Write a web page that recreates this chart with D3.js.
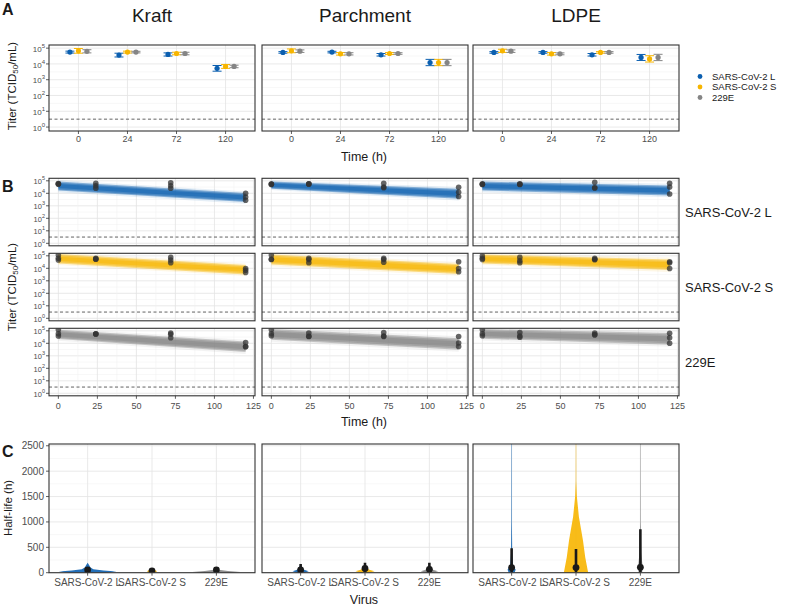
<!DOCTYPE html>
<html><head><meta charset="utf-8">
<script src="https://cdn.jsdelivr.net/npm/d3@7"></script>
<style>body{margin:0;background:#fff} text{font-family:"Liberation Sans",Arial,Helvetica,sans-serif}</style>
</head><body><svg id="c" width="789" height="606"></svg>
<script>
// ---------- data ----------
const materials = ["Kraft", "Parchment", "LDPE"];
const viruses = ["SARS-CoV-2 L", "SARS-CoV-2 S", "229E"];
const virusColors = ["#0b5fb0", "#f7b500", "#858585"];
const timeLabels = ["0", "24", "72", "120"];
const logTicks = [0, 1, 2, 3, 4, 5];
const logMinor = [0.5, 1.5, 2.5, 3.5, 4.5];
const timeTicks = [0, 25, 50, 75, 100, 125];
const halfLifeTicks = [0, 500, 1000, 1500, 2000, 2500];
const detectionLimit = 0.5; // log10 TCID50/mL

// Panel A: mean log10 titer [material][time]
const meanL = [[4.75, 4.56, 4.60, 3.72], [4.73, 4.75, 4.58, 4.09], [4.73, 4.73, 4.58, 4.41]];
const meanS = [[4.83, 4.75, 4.66, 3.84], [4.83, 4.64, 4.66, 4.09], [4.83, 4.64, 4.73, 4.32]];
const meanE = [[4.80, 4.75, 4.66, 3.84], [4.81, 4.64, 4.66, 4.09], [4.81, 4.64, 4.73, 4.41]];
const errL = [[0.06, 0.12, 0.10, 0.18], [0.05, 0.05, 0.08, 0.20], [0.05, 0.05, 0.08, 0.19]];
const errS = [[0.15, 0.06, 0.08, 0.12], [0.12, 0.08, 0.06, 0.20], [0.10, 0.08, 0.05, 0.20]];
const errE = [[0.10, 0.05, 0.08, 0.08], [0.08, 0.07, 0.05, 0.20], [0.08, 0.06, 0.05, 0.20]];

// Panel B: observations [material] -> [time, log10 titer]
const obsL = [
  [[0,4.76],[0,4.72],[0,4.78],[24,4.80],[24,4.60],[24,4.40],[72,4.85],[72,4.60],[72,4.40],[120,4.00],[120,3.70],[120,3.45]],
  [[0,4.70],[0,4.75],[0,4.74],[24,4.76],[24,4.74],[24,4.75],[72,4.80],[72,4.50],[72,4.44],[120,4.49],[120,4.09],[120,3.74]],
  [[0,4.76],[0,4.72],[0,4.71],[24,4.76],[24,4.72],[24,4.71],[72,4.89],[72,4.44],[72,4.42],[120,4.81],[120,4.50],[120,3.95]]
];
const obsS = [
  [[0,5.06],[0,4.66],[0,4.80],[24,4.79],[24,4.75],[24,4.72],[72,4.87],[72,4.66],[72,4.45],[120,3.99],[120,3.85],[120,3.67]],
  [[0,5.06],[0,4.71],[0,4.72],[24,4.79],[24,4.70],[24,4.44],[72,4.79],[72,4.70],[72,4.49],[120,4.52],[120,3.99],[120,3.72]],
  [[0,4.98],[0,4.71],[0,4.80],[24,4.87],[24,4.60],[24,4.44],[72,4.79],[72,4.72],[72,4.68],[120,4.52],[120,4.45],[120,3.99]]
];
const obsE = [
  [[0,5.08],[0,4.76],[0,4.58],[24,4.76],[24,4.74],[24,4.75],[72,4.82],[72,4.72],[72,4.45],[120,4.06],[120,3.74],[120,3.72]],
  [[0,5.08],[0,4.76],[0,4.60],[24,4.82],[24,4.56],[24,4.54],[72,4.87],[72,4.58],[72,4.54],[120,4.54],[120,4.02],[120,3.74]],
  [[0,5.08],[0,4.76],[0,4.60],[24,4.86],[24,4.58],[24,4.49],[72,4.82],[72,4.70],[72,4.67],[120,4.80],[120,4.45],[120,4.00]]
];
// Panel B: fitted decay band [material] -> [lo at t0, hi at t0, lo at t120, hi at t120]
const fitTimes = [0, 120];
const bandL = [[4.22,4.94,3.30,4.02],[4.36,4.94,3.56,4.36],[4.22,4.94,3.82,4.62]];
const bandS = [[4.39,5.14,3.51,4.26],[4.31,5.11,3.54,4.34],[4.39,5.11,3.86,4.71]];
const bandE = [[4.34,5.08,3.30,4.14],[4.28,5.14,3.48,4.41],[4.36,5.14,3.88,4.82]];

// Panel C: half-life posterior violins [material] -> [half-life h, relative density]
const violinL = [
  [[0,0.6],[25,1.0],[45,0.55],[70,0.2],[100,0.1],[150,0.05],[195,0]],
  [[0,0.12],[30,0.28],[60,0.12],[100,0.05],[150,0.02],[175,0]],
  [[0,0.10],[60,0.14],[150,0.05],[400,0.02],[1000,0.01],[2600,0.007]]
];
const violinS = [
  [[0,0.08],[30,0.18],[60,0.08],[90,0]],
  [[0,0.12],[30,0.33],[60,0.15],[100,0.05],[160,0.02],[200,0]],
  [[0,0.42],[300,0.32],[640,0.24],[1100,0.10],[1500,0.03],[1800,0.01],[2600,0.007]]
];
const violinE = [
  [[0,0.6],[15,0.83],[35,0.4],[60,0.08],[90,0]],
  [[0,0.12],[30,0.30],[60,0.12],[100,0.04],[150,0.02],[180,0]],
  [[0,0.06],[100,0.08],[400,0.03],[1000,0.01],[2600,0.007]]
];
// Panel C: median and interval [material][virus]
const medianHL = [[53, 33, 53], [55, 85, 67], [100, 100, 105]];
const lowHL = [[25, 25, 25], [10, 15, 15], [15, 15, 15]];
const highHL = [[95, 45, 75], [170, 197, 197], [480, 465, 855]];

// ---------- layout ----------
const svg = d3.select("#c");
const colX = [49, 262, 473], panelW = 206;
const aTop = 45, aH = 86;
const bTops = [178.3, 253.3, 328.3], bH = 67.5;
const cTop = 444, cH = 128.7;
const gridMajor = "#e3e3e3", gridMinor = "#f1f1f1", border = "#333333";
const tickCol = "#4d4d4d";
const means = [meanL, meanS, meanE], errs = [errL, errS, errE];
const obs = [obsL, obsS, obsE], bands = [bandL, bandS, bandE];
const violins = [violinL, violinS, violinE];

let clipId = 0;
function panel(x0, y0, w, h) {
  const g = svg.append("g");
  g.append("rect").attr("x", x0).attr("y", y0).attr("width", w).attr("height", h).attr("fill", "#fff");
  const id = "clip" + (clipId++);
  svg.append("clipPath").attr("id", id).append("rect").attr("x", x0).attr("y", y0).attr("width", w).attr("height", h);
  const grid = g.append("g");
  const content = g.append("g").attr("clip-path", `url(#${id})`);
  return {g, grid, content};
}
function frame(x0, y0, w, h) {
  svg.append("rect").attr("x", x0).attr("y", y0).attr("width", w).attr("height", h)
    .attr("fill", "none").attr("stroke", border).attr("stroke-width", 1.1);
}
function hLines(grid, x0, w, vals, y, col, sw) {
  grid.selectAll(null).data(vals).enter().append("line")
    .attr("x1", x0).attr("x2", x0 + w).attr("y1", d => y(d)).attr("y2", d => y(d))
    .attr("stroke", col).attr("stroke-width", sw);
}
function vLines(grid, y0, h, vals, x, col, sw) {
  grid.selectAll(null).data(vals).enter().append("line")
    .attr("y1", y0).attr("y2", y0 + h).attr("x1", d => x(d)).attr("x2", d => x(d))
    .attr("stroke", col).attr("stroke-width", sw);
}
function logAxis(x0, y, baseSize, supSize) {
  const g = svg.append("g");
  logTicks.forEach(t => {
    g.append("line").attr("x1", x0 - 3).attr("x2", x0).attr("y1", y(t)).attr("y2", y(t)).attr("stroke", border).attr("stroke-width", 0.8);
    const tx = g.append("text").attr("x", x0 - 4).attr("y", y(t) + 3.6).attr("text-anchor", "end")
      .attr("fill", tickCol).attr("font-size", baseSize);
    tx.append("tspan").text("10");
    tx.append("tspan").attr("dy", -4).attr("font-size", supSize).text(t);
  });
}
function xTicks(vals, x, yb, labelY, size, fmt) {
  vals.forEach(v => {
    svg.append("line").attr("x1", x(v)).attr("x2", x(v)).attr("y1", yb).attr("y2", yb + 3).attr("stroke", border).attr("stroke-width", 0.8);
    svg.append("text").attr("x", x(v)).attr("y", labelY).attr("text-anchor", "middle")
      .attr("fill", tickCol).attr("font-size", size).text(fmt ? fmt(v) : v);
  });
}
function dashed(content, x0, w, y) {
  content.append("line").attr("x1", x0).attr("x2", x0 + w).attr("y1", y(detectionLimit)).attr("y2", y(detectionLimit))
    .attr("stroke", "#555").attr("stroke-width", 0.9).attr("stroke-dasharray", "3,2.5");
}

// ---------- Panel A ----------
materials.forEach((m, mi) => {
  const x0 = colX[mi];
  const y = d3.scaleLinear().domain([-0.25, 5.2]).range([aTop + aH, aTop]);
  const x = d3.scalePoint().domain(timeLabels).range([x0, x0 + panelW]).padding(0.6);
  const dodge = d3.scalePoint().domain(viruses).range([-8.5, 8.5]);
  const p = panel(x0, aTop, panelW, aH);
  hLines(p.grid, x0, panelW, logMinor, y, gridMinor, 0.6);
  hLines(p.grid, x0, panelW, logTicks, y, gridMajor, 0.8);
  vLines(p.grid, aTop, aH, timeLabels, x, gridMajor, 0.8);
  dashed(p.content, x0, panelW, y);
  viruses.forEach((v, vi) => {
    timeLabels.forEach((t, ti) => {
      const cx = x(t) + dodge(v), mu = means[vi][mi][ti], e = errs[vi][mi][ti];
      const c = virusColors[vi];
      p.content.append("line").attr("x1", cx).attr("x2", cx).attr("y1", y(mu - e)).attr("y2", y(mu + e)).attr("stroke", c).attr("stroke-width", 1);
      [mu - e, mu + e].forEach(b => p.content.append("line").attr("x1", cx - 4.5).attr("x2", cx + 4.5).attr("y1", y(b)).attr("y2", y(b)).attr("stroke", c).attr("stroke-width", 1));
      p.content.append("circle").attr("cx", cx).attr("cy", y(mu)).attr("r", 2.6).attr("fill", c);
    });
  });
  frame(x0, aTop, panelW, aH);
  if (mi === 0) logAxis(x0, y, 8, 6);
  xTicks(timeLabels, x, aTop + aH, 141.7, 9);
  svg.append("text").attr("x", x0 + panelW / 2).attr("y", 21.7).attr("text-anchor", "middle")
    .attr("font-size", 19).attr("fill", "#1a1a1a").text(m);
});
svg.append("text").attr("x", 364).attr("y", 160.5).attr("text-anchor", "middle").attr("font-size", 12.5).attr("fill", "#1a1a1a").text("Time (h)");

// legend
viruses.forEach((v, vi) => {
  const ly = 76.5 + vi * 10.5;
  svg.append("circle").attr("cx", 700).attr("cy", ly).attr("r", 2.4).attr("fill", virusColors[vi]);
  svg.append("text").attr("x", 712).attr("y", ly + 3.3).attr("font-size", 9.5).attr("fill", "#1a1a1a").text(v);
});

// ---------- Panel B ----------
materials.forEach((m, mi) => {
  const x0 = colX[mi];
  const x = d3.scaleLinear().domain([-6, 126]).range([x0, x0 + panelW]);
  viruses.forEach((v, vi) => {
    const top = bTops[vi];
    const y = d3.scaleLinear().domain([-0.2, 5.2]).range([top + bH, top]);
    const p = panel(x0, top, panelW, bH);
    hLines(p.grid, x0, panelW, logMinor, y, gridMinor, 0.6);
    hLines(p.grid, x0, panelW, logTicks, y, gridMajor, 0.8);
    vLines(p.grid, top, bH, [12.5, 37.5, 62.5, 87.5, 112.5], x, gridMinor, 0.6);
    vLines(p.grid, top, bH, timeTicks, x, gridMajor, 0.8);
    dashed(p.content, x0, panelW, y);
    const b = bands[vi][mi];
    const c0 = (b[0] + b[1]) / 2, h0 = (b[1] - b[0]) / 2, c1 = (b[2] + b[3]) / 2, h1 = (b[3] - b[2]) / 2;
    [[1.35, 0.1], [1.0, 0.45], [0.75, 0.5], [0.45, 0.5]].forEach(([k, op]) => {
      const pts = [[fitTimes[0], c0 - k * h0, c0 + k * h0], [fitTimes[1], c1 - k * h1, c1 + k * h1]];
      const area = d3.area().x(d => x(d[0])).y0(d => y(d[1])).y1(d => y(d[2]));
      p.content.append("path").attr("d", area(pts)).attr("fill", virusColors[vi]).attr("opacity", op);
    });
    p.content.selectAll(null).data(obs[vi][mi]).enter().append("circle")
      .attr("cx", d => x(d[0])).attr("cy", d => y(d[1])).attr("r", 2.8)
      .attr("fill", "#333").attr("opacity", 0.75);
    frame(x0, top, panelW, bH);
    if (mi === 0) logAxis(x0, y, 7.5, 5.5);
    if (mi === 2) svg.append("text").attr("x", 685).attr("y", top + bH / 2 + 4.5).attr("font-size", 13).attr("fill", "#1a1a1a").text(v);
  });
  xTicks(timeTicks, x, bTops[2] + bH, 409.3, 9);
});
svg.append("text").attr("x", 364).attr("y", 426).attr("text-anchor", "middle").attr("font-size", 12.5).attr("fill", "#1a1a1a").text("Time (h)");

// ---------- Panel C ----------
materials.forEach((m, mi) => {
  const x0 = colX[mi];
  const y = d3.scaleLinear().domain([0, 2535]).range([cTop + cH, cTop]);
  const x = d3.scalePoint().domain(viruses).range([x0, x0 + panelW]).padding(0.6);
  const maxW = 0.45 * x.step();
  const w = d3.scaleLinear().domain([0, 1]).range([0, maxW]);
  const p = panel(x0, cTop, panelW, cH);
  hLines(p.grid, x0, panelW, [250, 750, 1250, 1750, 2250], y, gridMinor, 0.6);
  hLines(p.grid, x0, panelW, halfLifeTicks, y, gridMajor, 0.8);
  vLines(p.grid, cTop, cH, viruses, x, gridMajor, 0.8);
  viruses.forEach((v, vi) => {
    const cx = x(v);
    const area = d3.area().y(d => y(d[0])).x0(d => cx - Math.max(w(d[1]), 0.01)).x1(d => cx + Math.max(w(d[1]), 0.01));
    p.content.append("path").attr("d", area(violins[vi][mi])).attr("fill", virusColors[vi]).attr("opacity", 0.9);
    p.content.append("line").attr("x1", cx).attr("x2", cx).attr("y1", y(lowHL[mi][vi])).attr("y2", y(highHL[mi][vi]))
      .attr("stroke", "#1a1a1a").attr("stroke-width", 2.6);
    p.content.append("circle").attr("cx", cx).attr("cy", y(medianHL[mi][vi])).attr("r", 3.4).attr("fill", "#1a1a1a");
  });
  frame(x0, cTop, panelW, cH);
  if (mi === 0) {
    halfLifeTicks.forEach(t => {
      svg.append("line").attr("x1", x0 - 3).attr("x2", x0).attr("y1", y(t)).attr("y2", y(t)).attr("stroke", border).attr("stroke-width", 0.8);
      svg.append("text").attr("x", x0 - 5).attr("y", y(t) + 3.5).attr("text-anchor", "end").attr("fill", tickCol).attr("font-size", 10).text(t);
    });
  }
  xTicks(viruses, x, cTop + cH, 586, 10);
});
svg.append("text").attr("x", 364).attr("y", 604).attr("text-anchor", "middle").attr("font-size", 12.5).attr("fill", "#1a1a1a").text("Virus");

// ---------- axis titles & panel tags ----------
function yTitle(cx, cy, build) {
  const t = svg.append("text").attr("transform", `translate(${cx},${cy}) rotate(-90)`).attr("text-anchor", "middle")
    .attr("dominant-baseline", "central").attr("font-size", 11.5).attr("fill", "#1a1a1a");
  build(t);
}
function titerTitle(t) {
  t.append("tspan").text("Titer (TCID");
  t.append("tspan").attr("font-size", 8).attr("dy", 3).text("50");
  t.append("tspan").attr("dy", -3).text("/mL)");
}
yTitle(12, 86, titerTitle);
yTitle(12, 287, titerTitle);
yTitle(8, 508, t => t.text("Half-life (h)"));
[["A", 15], ["B", 191.5], ["C", 457]].forEach(([l, yy]) =>
  svg.append("text").attr("x", 2).attr("y", yy).attr("font-size", 16).attr("font-weight", "bold").attr("fill", "#1a1a1a").text(l));
</script></body></html>
